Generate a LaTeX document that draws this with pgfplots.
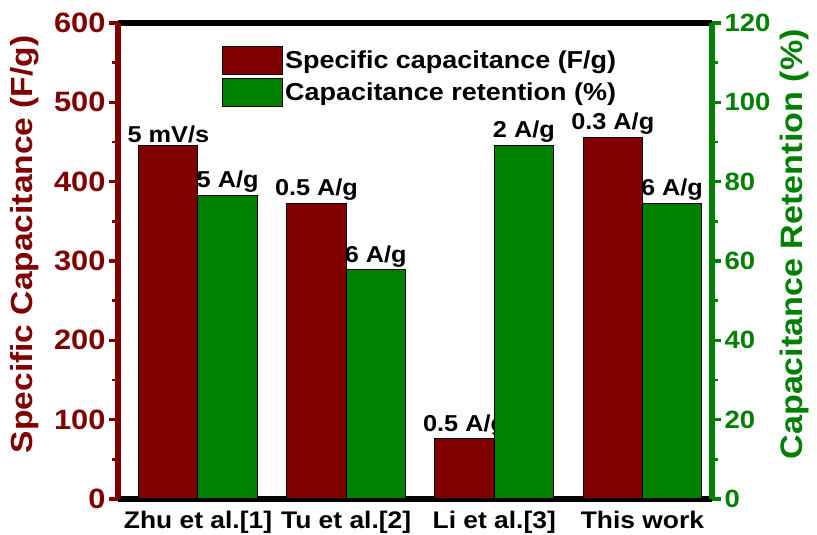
\documentclass[border=0pt]{standalone}
\usepackage{fontspec}
\setmainfont{Liberation Sans}[FakeStretch=1.1]
\usepackage{pgfplots}
\pgfplotsset{compat=1.18}
\usetikzlibrary{calc}
\definecolor{dred}{RGB}{128,0,0}
\definecolor{dgreen}{RGB}{0,128,0}
\newcommand{\fs}[1]{\fontsize{#1}{#1}\selectfont\bfseries}

\pgfplotstableread{
x y lab
0 446 {5 mV/s}
1 373 {0.5 A/g}
2 76 {0.5 A/g}
3 456 {0.3 A/g}
}\capdata
\pgfplotstableread{
x y lab
0 76.6 {5 A/g}
1 57.8 {6 A/g}
2 89.2 {2 A/g}
3 74.6 {6 A/g}
}\retdata

\begin{document}
\begin{tikzpicture}
\begin{axis}[name=ax,
  scale only axis, width=594pt, height=476pt,
  xmin=-0.54, xmax=3.47, ymin=0, ymax=600,
  /pgf/number format/assume math mode=true,
  separate axis lines,
  x axis line style={black, line width=5.5pt},
  y axis line style={dred, line width=5.5pt},
  ybar, bar width=0.4,
  xtick={0,1,2,3},
  xticklabels={Zhu et al.[1], Tu et al.[2], Li et al.[3], This work},
  xtick style={draw=none},
  xticklabel style={font=\fs{24}, black},
  ytick={0,100,...,600},
  minor y tick num=1,
  ytick pos=left,
  tick align=outside,
  major tick length=9pt, minor tick length=6pt,
  every tick/.append style={line width=3.5pt},
  every minor tick/.append style={line width=2.5pt},
  ytick style={dred, line width=3.5pt},
  minor y tick style={dred, line width=2.5pt},
  yticklabel style={font=\fs{28}, dred},
  every axis y label/.style={at={(axis description cs:-0.1566,0.535)}, rotate=90, anchor=center},
  ylabel={\textcolor{dred}{\fs{30.5}Specific Capacitance (F/g)}},
  every axis plot post/.append style={legend image code/.code={\draw[##1,draw=black,line width=1pt] (0pt,-14pt) rectangle (60pt,14pt);}},
  legend style={at={(axis description cs:0.175,0.953)}, anchor=north west, draw=none, fill=none, inner sep=0pt, font=\fs{24.5}, row sep=3pt, nodes={inner sep=2pt}},
  legend cell align=left,
  nodes near coords, point meta=explicit symbolic,
  nodes near coords style={font=\fs{23}, black, anchor=south, inner sep=2pt},
]
\addplot[fill=dred, draw=black, line width=1pt, bar shift=-0.2] table[x=x, y=y, meta=lab] {\capdata};
\addlegendentry{Specific capacitance (F/g)}
\addlegendimage{fill=dgreen, draw=black}
\addlegendentry{Capacitance retention (\%)}
\end{axis}
\begin{axis}[
  scale only axis, width=594pt, height=476pt,
  xmin=-0.54, xmax=3.47, ymin=0, ymax=120,
  /pgf/number format/assume math mode=true,
  axis x line=none,
  axis y line*=right,
  y axis line style={dgreen, line width=5.5pt, -},
  ybar, bar width=0.4,
  ytick={0,20,...,120},
  minor y tick num=1,
  tick align=outside,
  major tick length=9pt, minor tick length=6pt,
  every tick/.append style={line width=3.5pt},
  every minor tick/.append style={line width=2.5pt},
  ytick style={dgreen, line width=3.5pt},
  minor y tick style={dgreen, line width=2.5pt},
  yticklabel style={font=\fs{25}, dgreen},
  every axis y label/.style={at={(axis description cs:1.1397,0.535)}, rotate=90, anchor=center},
  ylabel={\textcolor{dgreen}{\fs{31}Capacitance Retention (\%)}},
  nodes near coords, point meta=explicit symbolic,
  nodes near coords style={font=\fs{23}, black, anchor=south, inner sep=2pt},
]
\addplot[fill=dgreen, draw=black, line width=1pt, bar shift=0.2] table[x=x, y=y, meta=lab] {\retdata};
\end{axis}
\pgfresetboundingbox
\path ($(ax.south west)+(-118pt,-36pt)$) rectangle ($(ax.north east)+(105pt,23pt)$);
\end{tikzpicture}
\end{document}
